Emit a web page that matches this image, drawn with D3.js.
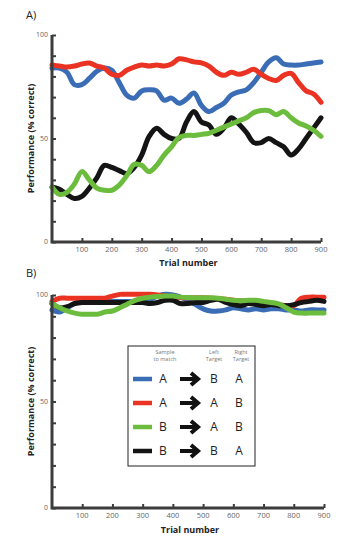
<!DOCTYPE html>
<html>
<head>
<meta charset="utf-8">
<script src="https://cdn.jsdelivr.net/npm/d3@7"></script>
<style>
  body { margin: 0; background: #fff; }
  svg { display: block; }
</style>
</head>
<body>
<div id="chart"></div>
<script>
// Trial positions shared by every series
const trials = [0, 25, 50, 75, 100, 125, 150, 175, 200, 225, 250, 275, 300, 325, 350, 375, 400, 425,
  450, 475, 500, 525, 550, 575, 600, 625, 650, 675, 700, 725, 750, 775, 800, 825, 850, 875, 900];

// Panel A
const blueA = [84, 84, 82, 76, 76, 79, 82.5, 84, 83, 77, 71, 69.5, 73, 73.5, 73, 68.5, 69.5, 67,
  69, 72, 66, 63, 65, 67, 71, 72.5, 73.5, 77, 82, 87, 89, 86, 85.5, 85.5, 86, 86.5, 87];
const redA = [85.5, 85, 84.5, 85, 86, 86.5, 85, 84, 81, 80.5, 83, 84.5, 85.5, 85, 85.5, 85, 86, 88.5,
  88, 87, 86.5, 85, 82, 80.5, 82, 81, 82, 83.5, 81, 79, 78, 80.5, 81.5, 77, 73, 71.5, 67.5];
const blackA = [26.6, 25.5, 23, 21, 22, 26, 31, 37, 36, 34.5, 33, 36, 42, 51, 55, 52, 50, 50,
  58, 63, 58, 56.5, 52, 55, 60, 57, 53, 48, 48, 50, 48, 46, 42, 45, 50, 55, 60];
const greenA = [26.6, 23, 24, 28, 34, 30, 26, 25, 25, 27.5, 32, 37.5, 37, 34, 37, 42, 46, 50.5,
  51.5, 51.5, 52, 52.5, 54, 55.5, 57, 58.5, 60, 62.5, 63.5, 63.5, 61.5, 63, 60, 57.5, 56, 54, 51];

// Panel B
const blueB = [93, 92, 94, 96, 97, 97, 97, 97, 97, 97, 97, 97, 97, 98, 99.5, 100.3, 100, 99,
  97.5, 95.5, 93.5, 92.5, 92.5, 93, 94, 93.5, 93, 93.5, 93, 93.5, 93.5, 93, 93, 92.5, 93, 93, 93];
const redB = [97, 98.5, 98.5, 98.5, 98.5, 98.5, 98.5, 98.5, 99.5, 100.3, 100.3, 100.3, 100.3, 100.3, 100, 99.5, 99, 98.8,
  98.7, 98.7, 98.7, 98.5, 98.3, 98, 97.5, 97.3, 97, 96.8, 96.5, 96, 95.5, 95, 95, 98.5, 99, 99, 99];
const blackB = [96, 94, 94.5, 96, 96.5, 96.5, 96.5, 96.5, 96.5, 96.5, 96.5, 96.5, 96.5, 96, 96.5, 97.5, 97.5, 96,
  96, 96.5, 96.5, 97.5, 98, 96.5, 95.5, 95, 96, 95.5, 95, 95.5, 95, 95, 95.5, 96.5, 97, 97.5, 97];
const greenB = [96, 94, 92.5, 91.5, 91, 91, 91, 92, 92.5, 94, 95.8, 97.5, 98.5, 99, 99.3, 99.5, 99.5, 99,
  98.8, 98.7, 98.7, 98.7, 98.5, 98, 97.5, 97.3, 97.5, 97.5, 97, 96.5, 95.8, 94, 92, 91.5, 91.5, 91.5, 91.5];

const xTicks = [100, 200, 300, 400, 500, 600, 700, 800, 900];
const yTicks = [0, 10, 20, 30, 40, 50, 60, 70, 80, 90, 100];
const yLabels = [0, 50, 100];

const colors = { blue: "#3a6db5", red: "#ea3323", green: "#6cbd3e", black: "#141414" };

// Legend rows: sample, left target, right target
const legendRows = [
  { key: "blue", sample: "A", left: "B", right: "A" },
  { key: "red", sample: "A", left: "A", right: "B" },
  { key: "green", sample: "B", left: "A", right: "B" },
  { key: "black", sample: "B", left: "B", right: "A" }
];

const width = 347, height = 545;
const svg = d3.select("#chart").append("svg")
  .attr("width", width)
  .attr("height", height);

const axisColor = "#3c3c3c";
const labelFont = "'Open Sans', 'DejaVu Sans', sans-serif";

function drawPanel(cfg) {
  const x = d3.scaleLinear().domain([0, 900]).range([cfg.x0, cfg.x1]);
  const y = d3.scaleLinear().domain([0, 100]).range([cfg.y0, cfg.y1]);
  const g = svg.append("g");

  // panel letter
  g.append("text")
    .attr("x", 26).attr("y", cfg.letterY)
    .attr("font-family", labelFont).attr("font-size", "11px").attr("fill", "#222")
    .text(cfg.letter);

  // series
  const line = d3.line()
    .x((d, i) => x(trials[i]))
    .y(d => y(d))
    .curve(d3.curveCatmullRom.alpha(0.5));

  cfg.series.forEach(s => {
    g.append("path")
      .datum(s.values)
      .attr("fill", "none")
      .attr("stroke", colors[s.key])
      .attr("stroke-width", 5)
      .attr("stroke-linejoin", "round")
      .attr("stroke-linecap", "round")
      .attr("d", line);
  });

  // y axis
  const yAxis = g.append("g").attr("transform", `translate(${cfg.x0},0)`)
    .call(d3.axisRight(y).tickValues(yTicks).tickSize(4).tickFormat(""));
  yAxis.select(".domain").remove();
  yAxis.selectAll(".tick line").attr("stroke", axisColor).attr("stroke-width", 2);

  g.selectAll(".ylab")
    .data(yLabels)
    .join("text")
    .attr("x", cfg.x0 - 4)
    .attr("y", d => y(d))
    .attr("dy", "0.35em")
    .attr("text-anchor", "end")
    .attr("font-family", labelFont).attr("font-size", "7px").attr("fill", "#666")
    .text(d => d);

  // x axis
  const xAxis = g.append("g").attr("transform", `translate(0,${cfg.y0})`)
    .call(d3.axisTop(x).tickValues(xTicks).tickSize(4).tickFormat(""));
  xAxis.select(".domain").remove();
  xAxis.selectAll(".tick line").attr("stroke", axisColor).attr("stroke-width", 2);

  g.selectAll(".xlab")
    .data(xTicks)
    .join("text")
    .attr("x", d => x(d))
    .attr("y", cfg.y0 + cfg.tickLabelDy)
    .attr("text-anchor", "middle")
    .attr("font-family", labelFont).attr("font-size", "7.5px").attr("fill", "#666")
    .text(d => d);

  // axis lines
  g.append("path")
    .attr("d", `M${cfg.x0},${y(100)}V${cfg.y0}H${x(900)}`)
    .attr("fill", "none")
    .attr("stroke", axisColor)
    .attr("stroke-width", 3);

  // axis titles
  g.append("text")
    .attr("x", (cfg.x0 + cfg.x1) / 2 + 2)
    .attr("y", cfg.y0 + cfg.titleDy)
    .attr("text-anchor", "middle")
    .attr("font-family", labelFont).attr("font-size", "9px").attr("font-weight", "bold").attr("fill", "#222")
    .text("Trial number");

  g.append("text")
    .attr("transform", `translate(34,${(cfg.y0 + cfg.y1) / 2}) rotate(-90)`)
    .attr("text-anchor", "middle")
    .attr("font-family", labelFont).attr("font-size", "9px").attr("font-weight", "bold").attr("fill", "#222")
    .text("Performance (% correct)");

  return { x, y, g };
}

drawPanel({
  letter: "A)", letterY: 19,
  x0: 52, x1: 321, y0: 242, y1: 35,
  tickLabelDy: 10, titleDy: 24,
  series: [
    { key: "blue", values: blueA },
    { key: "red", values: redA },
    { key: "black", values: blackA },
    { key: "green", values: greenA }
  ]
});

drawPanel({
  letter: "B)", letterY: 277,
  x0: 52, x1: 324, y0: 508, y1: 295,
  tickLabelDy: 10, titleDy: 25,
  series: [
    { key: "blue", values: blueB },
    { key: "red", values: redB },
    { key: "black", values: blackB },
    { key: "green", values: greenB }
  ]
});

// legend
const lg = svg.append("g");
lg.append("rect")
  .attr("x", 128).attr("y", 346).attr("width", 127).attr("height", 120)
  .attr("fill", "#fff").attr("stroke", "#222").attr("stroke-width", 1);

const headFont = { family: labelFont, size: "5.5px", fill: "#777" };
[[165, ["Sample", "to match"]], [214, ["Left", "Target"]], [241, ["Right", "Target"]]].forEach(([cx, lines]) => {
  lines.forEach((t, i) => {
    lg.append("text")
      .attr("x", cx).attr("y", 354 + i * 7)
      .attr("text-anchor", "middle")
      .attr("font-family", headFont.family).attr("font-size", headFont.size).attr("fill", headFont.fill)
      .text(t);
  });
});

const rowY = d3.scalePoint().domain(legendRows.map(d => d.key)).range([379, 451]);

legendRows.forEach(r => {
  const cy = rowY(r.key);
  lg.append("line")
    .attr("x1", 133).attr("x2", 152).attr("y1", cy).attr("y2", cy)
    .attr("stroke", colors[r.key]).attr("stroke-width", 4.5);
  [[163, r.sample], [214, r.left], [239, r.right]].forEach(([cx, t]) => {
    lg.append("text")
      .attr("x", cx).attr("y", cy)
      .attr("dy", "0.36em")
      .attr("text-anchor", "middle")
      .attr("font-family", labelFont).attr("font-size", "12px").attr("fill", "#222")
      .text(t);
  });
  // arrow
  lg.append("path")
    .attr("d", `M180,${cy}H197M191,${cy - 6}L198,${cy}L191,${cy + 6}`)
    .attr("fill", "none")
    .attr("stroke", "#111")
    .attr("stroke-width", 4)
    .attr("stroke-linejoin", "miter");
});
</script>
</body>
</html>
